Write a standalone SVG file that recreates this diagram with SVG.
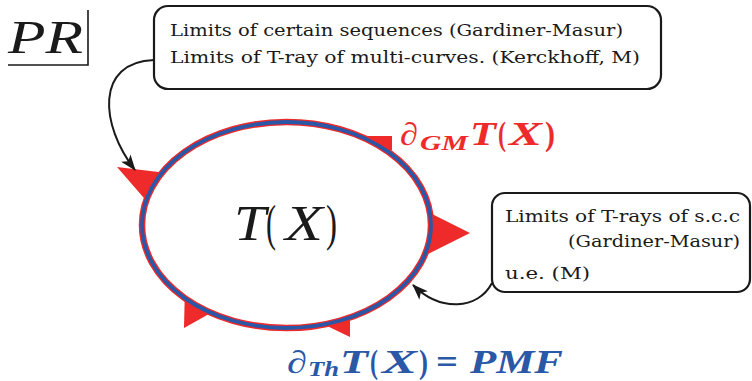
<svg xmlns="http://www.w3.org/2000/svg" width="752" height="381" viewBox="0 0 752 381">
<style>
.box{fill:#fff;stroke:#1a1a1a;stroke-width:2.2}
.t{font-family:'DejaVu Serif','Liberation Serif',serif;font-size:16px;fill:#1a1a1a}
.red{fill:#ee2a2a}
.conn{fill:none;stroke:#1a1a1a;stroke-width:2}
.m{font-family:'Liberation Serif','DejaVu Serif',serif;font-style:italic}
.u{font-family:'Liberation Serif','DejaVu Serif',serif;font-style:normal}
.rb{font-weight:bold;fill:#ee2a2a}
.bb{font-weight:bold;fill:#2b57a7}
</style>
<defs>
<marker id="ah" markerUnits="userSpaceOnUse" viewBox="0 0 16 12" refX="15" refY="6" markerWidth="16" markerHeight="12" orient="auto">
<path d="M0,0 L16,6 L0,12 L4,6 z" fill="#1a1a1a"/>
</marker>
</defs>
<rect width="752" height="381" fill="#fff"/>

<g id="pr">
<text class="m" x="8" y="53" font-size="46" textLength="75" lengthAdjust="spacingAndGlyphs" fill="#1a1a1a">PR</text>
<path d="M8,65 H88 V10" fill="none" stroke="#1a1a1a" stroke-width="1.6"/>
</g>

<g id="teich">
<polygon class="red" points="117,167 175,174 150,205"/>
<polygon class="red" points="340,136 392,136 392,150 370,150"/>
<polygon class="red" points="420,208 470,233 420,258"/>
<polygon class="red" points="185,285 184,328 225,305"/>
<polygon class="red" points="350,310 350,337 325,325"/>
<ellipse cx="286.5" cy="225" rx="144.5" ry="103" fill="#fff" stroke="#ee2a2a" stroke-width="6.5"/>
<ellipse cx="286.5" cy="225" rx="144.5" ry="103" fill="none" stroke="#2b57a7" stroke-width="3.8"/>
<text class="m" x="234" y="240" font-size="50" textLength="32" lengthAdjust="spacingAndGlyphs" fill="#1a1a1a">T</text>
<text class="u" x="266" y="240" font-size="50" textLength="10" lengthAdjust="spacingAndGlyphs" fill="#1a1a1a">(</text>
<text class="m" x="285" y="240" font-size="50" textLength="38" lengthAdjust="spacingAndGlyphs" fill="#1a1a1a">X</text>
<text class="u" x="326" y="240" font-size="50" textLength="11" lengthAdjust="spacingAndGlyphs" fill="#1a1a1a">)</text>
</g>

<g id="gm-label">
<text class="m rb" x="400" y="145" font-size="32" textLength="18" lengthAdjust="spacingAndGlyphs">∂</text>
<text class="m rb" x="420" y="150" font-size="21" textLength="48" lengthAdjust="spacingAndGlyphs">GM</text>
<text class="m rb" x="470" y="145" font-size="33" textLength="26" lengthAdjust="spacingAndGlyphs">T</text>
<text class="u rb" x="498" y="145" font-size="33" textLength="8" lengthAdjust="spacingAndGlyphs">(</text>
<text class="m rb" x="509" y="145" font-size="33" textLength="33" lengthAdjust="spacingAndGlyphs">X</text>
<text class="u rb" x="545" y="145" font-size="33" textLength="10" lengthAdjust="spacingAndGlyphs">)</text>
</g>

<g id="th-label">
<text class="m bb" x="287" y="373" font-size="32" textLength="20" lengthAdjust="spacingAndGlyphs">∂</text>
<text class="m bb" x="308" y="376" font-size="20" textLength="31" lengthAdjust="spacingAndGlyphs">Th</text>
<text class="m bb" x="340" y="373" font-size="33" textLength="28" lengthAdjust="spacingAndGlyphs">T</text>
<text class="u bb" x="370" y="373" font-size="33" textLength="8" lengthAdjust="spacingAndGlyphs">(</text>
<text class="m bb" x="382" y="373" font-size="33" textLength="35" lengthAdjust="spacingAndGlyphs">X</text>
<text class="u bb" x="419" y="373" font-size="33" textLength="9" lengthAdjust="spacingAndGlyphs">)</text>
<text class="u bb" x="436" y="373" font-size="33" textLength="22" lengthAdjust="spacingAndGlyphs">=</text>
<text class="m bb" x="470" y="373" font-size="33" textLength="93" lengthAdjust="spacingAndGlyphs">PMF</text>
</g>

<g id="box-top">
<rect class="box" x="154" y="6" width="507" height="83" rx="14"/>
<text class="t" x="170" y="36" textLength="453" lengthAdjust="spacingAndGlyphs">Limits of certain sequences (Gardiner-Masur)</text>
<text class="t" x="170" y="63" textLength="470" lengthAdjust="spacingAndGlyphs">Limits of T-ray of multi-curves. (Kerckhoff, M)</text>
</g>

<g id="box-right">
<rect class="box" x="492" y="193" width="258" height="99" rx="13"/>
<text class="t" x="505" y="222" textLength="235" lengthAdjust="spacingAndGlyphs">Limits of T-rays of s.c.c</text>
<text class="t" x="568" y="247" textLength="172" lengthAdjust="spacingAndGlyphs">(Gardiner-Masur)</text>
<text class="t" x="505" y="279" textLength="85" lengthAdjust="spacingAndGlyphs">u.e. (M)</text>
</g>

<g id="connectors">
<path class="conn" d="M154,60 C95,62 100,125 135,170" marker-end="url(#ah)"/>
<path class="conn" d="M492,283 C478,310 440,312 413,285" marker-end="url(#ah)"/>
</g>
</svg>
